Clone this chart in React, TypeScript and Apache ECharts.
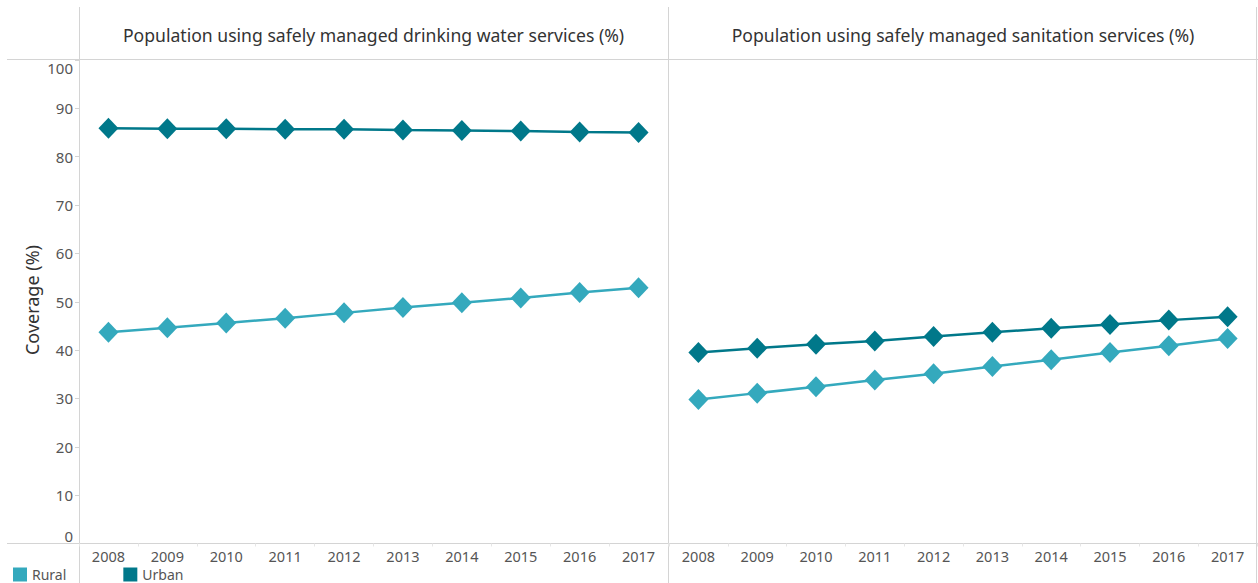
import React, { useEffect, useRef } from "react";
import * as echarts from "echarts";

const years = ["2008", "2009", "2010", "2011", "2012", "2013", "2014", "2015", "2016", "2017"];
const waterRural = [43.7, 44.6, 45.6, 46.6, 47.7, 48.8, 49.8, 50.8, 51.9, 52.9];
const waterUrban = [85.9, 85.8, 85.8, 85.7, 85.7, 85.5, 85.4, 85.3, 85.1, 85.0];
const sanRural = [29.8, 31.1, 32.4, 33.8, 35.1, 36.6, 38.0, 39.5, 40.9, 42.4];
const sanUrban = [39.5, 40.4, 41.2, 41.9, 42.8, 43.7, 44.5, 45.3, 46.2, 46.9];
const panelTitles = [
  "Population using safely managed drinking water services (%)",
  "Population using safely managed sanitation services (%)",
];
const yTicks = [0, 10, 20, 30, 40, 50, 60, 70, 80, 90, 100];

const RURAL = "#34a9bd";
const URBAN = "#00788a";
const FONT = "'Noto Sans', sans-serif";
const LINE = "#d4d4d4";

export default function App() {
  const ref = useRef<HTMLDivElement>(null);
  useEffect(() => {
    if (!ref.current) return;
    const chart = echarts.init(ref.current, null, { renderer: "svg" });
    const grids = [
      { left: 79, top: 60, width: 589, height: 483.5 },
      { left: 669, top: 60, width: 588, height: 483.5 },
    ];
    const xAxis = grids.map((_, i) => ({
      type: "category",
      gridIndex: i,
      data: years,
      boundaryGap: true,
      axisLine: { show: false },
      axisTick: { show: true, length: 3, lineStyle: { color: "#e6e6e6" } },
      axisLabel: { color: "#555", fontSize: 14.5, lineHeight: 15, fontFamily: FONT, margin: 5 },
      splitLine: { show: false },
    }));
    const yAxis = grids.map((_, i) => ({
      type: "value",
      gridIndex: i,
      min: yTicks[0],
      max: yTicks[yTicks.length - 1],
      interval: 10,
      axisLine: { show: false },
      axisTick: { show: i === 0, length: 4, lineStyle: { color: "#d4d4d4" } },
      axisLabel: {
        show: i === 0,
        color: "#555",
        fontSize: 15,
        fontFamily: FONT,
        margin: 6,
        verticalAlignMinLabel: "bottom",
        verticalAlignMaxLabel: "top",
        formatter: (v: number) => String(v),
      },
      splitLine: { show: false },
    }));
    const mk = (name: string, data: number[], color: string, idx: number) => ({
      name,
      type: "line",
      xAxisIndex: idx,
      yAxisIndex: idx,
      data,
      symbol: "diamond",
      symbolSize: [20, 21],
      lineStyle: { color, width: 2.5 },
      itemStyle: { color },
      z: name === "Urban" ? 3 : 2,
    });
    const gLine = (x1: number, y1: number, x2: number, y2: number) => ({
      type: "line",
      shape: { x1, y1, x2, y2 },
      style: { stroke: LINE, lineWidth: 1 },
      silent: true,
      z: 0,
    });
    const titleText = (x: number, text: string) => ({
      type: "text",
      x,
      y: 35,
      style: {
        text,
        fill: "#333",
        font: `17.6px ${FONT}`,
        align: "center",
        verticalAlign: "middle",
      },
    });
    chart.setOption({
      animation: false,
      backgroundColor: "#ffffff",
      grid: grids,
      xAxis,
      yAxis,
      legend: {
        left: 13,
        top: 567.5,
        itemWidth: 14,
        itemHeight: 14,
        itemGap: 57,
        icon: "rect",
        data: ["Rural", "Urban"],
        textStyle: {
          color: "#555",
          fontSize: 14,
          lineHeight: 14,
          fontFamily: FONT,
          padding: [0, 0, 0, 0],
        },
        padding: 0,
      },
      graphic: [
        gLine(7, 59.5, 1258, 59.5),
        gLine(7, 543.5, 1258, 543.5),
        gLine(79.5, 7, 79.5, 583),
        gLine(668.5, 7, 668.5, 583),
        gLine(1256.5, 7, 1256.5, 583),
        titleText(373.5, panelTitles[0]),
        titleText(963, panelTitles[1]),
        {
          type: "text",
          x: 32,
          y: 300,
          rotation: Math.PI / 2,
          style: {
            text: "Coverage (%)",
            fill: "#333",
            font: `18px ${FONT}`,
            align: "center",
            verticalAlign: "middle",
          },
        },
      ],
      series: [
        mk("Rural", waterRural, RURAL, 0),
        mk("Urban", waterUrban, URBAN, 0),
        mk("Rural", sanRural, RURAL, 1),
        mk("Urban", sanUrban, URBAN, 1),
      ],
    });
    return () => chart.dispose();
  }, []);
  return (
    <div
      ref={ref}
      style={{ position: "fixed", left: 0, top: 0, width: 1258, height: 583, background: "#fff" }}
    />
  );
}
